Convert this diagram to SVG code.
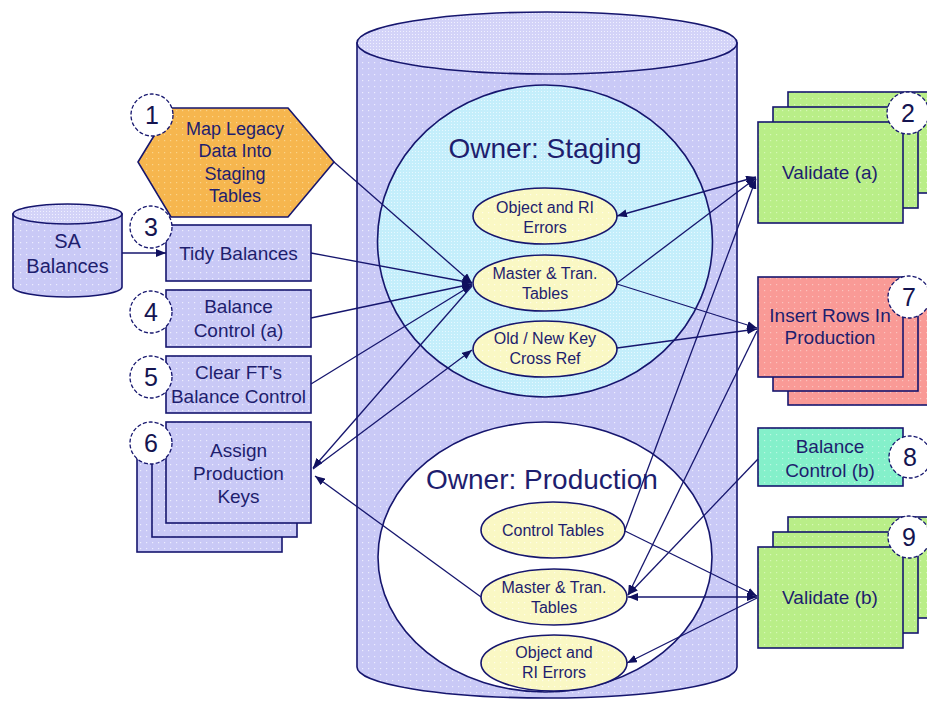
<svg xmlns="http://www.w3.org/2000/svg" width="927" height="702" viewBox="0 0 927 702">
<defs>
<style>
.t{font-family:"Liberation Sans",Arial,sans-serif;fill:#1e1e6e;text-anchor:middle}
.s{stroke:#16166e;stroke-width:1.6}
.c{fill:none;stroke:#16166e;stroke-width:1.3}
.num{fill:#ffffff;stroke:#16166e;stroke-width:1.3;stroke-dasharray:4 2}
.nt{font-family:"Liberation Sans",Arial,sans-serif;fill:#141450;text-anchor:middle;font-size:25px}
.f16{font-size:16px}
.f18{font-size:18px}
.f19{font-size:19px}
.big{font-size:28px}
</style>
<pattern id="pLav" width="6" height="6" patternUnits="userSpaceOnUse"><rect width="6" height="6" fill="#c9c9f6"/><rect x="2" y="2" width="1.2" height="1.2" fill="#ececff"/></pattern>
<pattern id="pLavTop" width="3" height="3" patternUnits="userSpaceOnUse"><rect width="3" height="3" fill="#d3d3f8"/><rect x="1" y="1" width="1" height="1" fill="#f0f0ff"/></pattern>
<pattern id="pCyan" width="3" height="3" patternUnits="userSpaceOnUse"><rect width="3" height="3" fill="#c4eefb"/><rect x="1" y="1" width="1" height="1" fill="#e6f8ff"/></pattern>
<pattern id="pYel" width="6" height="6" patternUnits="userSpaceOnUse"><rect width="6" height="6" fill="#faf8c4"/><rect x="2" y="2" width="1.2" height="1.2" fill="#fffde8"/></pattern>
<pattern id="pOr" width="6" height="6" patternUnits="userSpaceOnUse"><rect width="6" height="6" fill="#f6b64e"/><rect x="2" y="2" width="1.2" height="1.2" fill="#fbd48a"/></pattern>
<pattern id="pGr" width="6" height="6" patternUnits="userSpaceOnUse"><rect width="6" height="6" fill="#b9ee88"/><rect x="2" y="2" width="1.2" height="1.2" fill="#d6f8b6"/></pattern>
<pattern id="pRed" width="6" height="6" patternUnits="userSpaceOnUse"><rect width="6" height="6" fill="#f99a96"/><rect x="2" y="2" width="1.2" height="1.2" fill="#fcc2be"/></pattern>
<pattern id="pTeal" width="6" height="6" patternUnits="userSpaceOnUse"><rect width="6" height="6" fill="#84f0ca"/><rect x="2" y="2" width="1.2" height="1.2" fill="#b8f8e2"/></pattern>
<marker id="ah" viewBox="0 0 10 8" refX="10" refY="4" markerWidth="10" markerHeight="8" markerUnits="userSpaceOnUse" orient="auto-start-reverse"><path d="M0,0 L10,4 L0,8 Z" fill="#10105e"/></marker>
</defs>

<g id="database">
<path class="s" fill="url(#pLav)" d="M357,43 L357,667 A190,31 0 0 0 737,667 L737,43 Z"/>
<ellipse class="s" fill="url(#pLavTop)" cx="547" cy="43" rx="190" ry="31"/>
</g>

<g id="owner-staging">
<ellipse class="s" fill="url(#pCyan)" cx="545" cy="241" rx="167.5" ry="156"/>
<text class="t big" x="545" y="158">Owner: Staging</text>
</g>

<g id="owner-production">
<ellipse class="s" fill="#ffffff" cx="545" cy="557" rx="167" ry="135"/>
<text class="t big" x="542" y="489">Owner: Production</text>
</g>

<g id="stg-object-errors">
<ellipse class="s" fill="url(#pYel)" cx="545" cy="216" rx="72" ry="28"/>
<text class="t f16" x="545" y="213">Object and RI</text>
<text class="t f16" x="545" y="233">Errors</text>
</g>
<g id="stg-master">
<ellipse class="s" fill="url(#pYel)" cx="545" cy="283" rx="72" ry="28"/>
<text class="t f16" x="545" y="279">Master &amp; Tran.</text>
<text class="t f16" x="545" y="299">Tables</text>
</g>
<g id="stg-oldnew">
<ellipse class="s" fill="url(#pYel)" cx="545" cy="349" rx="72" ry="28"/>
<text class="t f16" x="545" y="344">Old / New Key</text>
<text class="t f16" x="545" y="364">Cross Ref</text>
</g>

<g id="prd-control">
<ellipse class="s" fill="url(#pYel)" cx="553" cy="530" rx="72" ry="28"/>
<text class="t f16" x="553" y="536">Control Tables</text>
</g>
<g id="prd-master">
<ellipse class="s" fill="url(#pYel)" cx="554" cy="597" rx="73" ry="28"/>
<text class="t f16" x="554" y="593">Master &amp; Tran.</text>
<text class="t f16" x="554" y="613">Tables</text>
</g>
<g id="prd-object-errors">
<ellipse class="s" fill="url(#pYel)" cx="554" cy="663" rx="73" ry="28"/>
<text class="t f16" x="554" y="658">Object and</text>
<text class="t f16" x="554" y="678">RI Errors</text>
</g>

<g id="sa-balances">
<path class="s" fill="url(#pLav)" d="M13,214 L13,287 A54.5,10 0 0 0 122,287 L122,214 Z"/>
<ellipse class="s" fill="url(#pLavTop)" cx="67.5" cy="214" rx="54.5" ry="10"/>
<text class="t" style="font-size:20px" x="67.5" y="248">SA</text>
<text class="t" style="font-size:20px" x="67.5" y="273">Balances</text>
</g>

<g id="step1-map-legacy">
<polygon class="s" fill="url(#pOr)" points="138,162 171,108 288,108 334,162 288,217 171,217"/>
<text class="t f18" x="235" y="135">Map Legacy</text>
<text class="t f18" x="235" y="157">Data Into</text>
<text class="t f18" x="235" y="180">Staging</text>
<text class="t f18" x="235" y="202">Tables</text>
<circle class="num" cx="152" cy="115" r="21"/>
<text class="nt" x="152" y="124">1</text>
</g>

<g id="step3-tidy">
<rect class="s" fill="url(#pLav)" x="166" y="225" width="145" height="56"/>
<text class="t f19" x="238.5" y="260">Tidy Balances</text>
<circle class="num" cx="151" cy="227" r="21"/>
<text class="nt" x="151" y="236">3</text>
</g>

<g id="step4-balance-a">
<rect class="s" fill="url(#pLav)" x="166" y="290" width="145" height="57"/>
<text class="t f19" x="238.5" y="313">Balance</text>
<text class="t f19" x="238.5" y="337">Control (a)</text>
<circle class="num" cx="151" cy="312" r="21"/>
<text class="nt" x="151" y="321">4</text>
</g>

<g id="step5-clear-ft">
<rect class="s" fill="url(#pLav)" x="166" y="356" width="145" height="57"/>
<text class="t f19" x="238.5" y="379">Clear FT's</text>
<text class="t f19" x="238.5" y="403">Balance Control</text>
<circle class="num" cx="151" cy="377" r="21"/>
<text class="nt" x="151" y="386">5</text>
</g>

<g id="step6-assign-keys">
<rect class="s" fill="url(#pLav)" x="137" y="451" width="145" height="101"/>
<rect class="s" fill="url(#pLav)" x="152" y="436" width="145" height="101"/>
<rect class="s" fill="url(#pLav)" x="166" y="422" width="145" height="101"/>
<text class="t f19" x="238.5" y="457">Assign</text>
<text class="t f19" x="238.5" y="480">Production</text>
<text class="t f19" x="238.5" y="503">Keys</text>
<circle class="num" cx="151" cy="443" r="21"/>
<text class="nt" x="151" y="452">6</text>
</g>

<g id="step2-validate-a">
<rect class="s" fill="url(#pGr)" x="788" y="92" width="145" height="101"/>
<rect class="s" fill="url(#pGr)" x="773" y="107" width="145" height="101"/>
<rect class="s" fill="url(#pGr)" x="758" y="122" width="145" height="101"/>
<text class="t f19" x="830" y="179">Validate (a)</text>
<circle class="num" cx="908" cy="113" r="21"/>
<text class="nt" x="908" y="122">2</text>
</g>

<g id="step7-insert-rows">
<rect class="s" fill="url(#pRed)" x="788" y="305" width="145" height="100"/>
<rect class="s" fill="url(#pRed)" x="773" y="291" width="145" height="100"/>
<rect class="s" fill="url(#pRed)" x="758" y="277" width="145" height="100"/>
<text class="t f19" x="830" y="322">Insert Rows In</text>
<text class="t f19" x="830" y="344">Production</text>
<circle class="num" cx="909" cy="297" r="21"/>
<text class="nt" x="909" y="306">7</text>
</g>

<g id="step8-balance-b">
<rect class="s" fill="url(#pTeal)" x="758" y="428" width="145" height="58"/>
<text class="t f19" x="830" y="453">Balance</text>
<text class="t f19" x="830" y="477">Control (b)</text>
<circle class="num" cx="910" cy="457" r="21"/>
<text class="nt" x="910" y="466">8</text>
</g>

<g id="step9-validate-b">
<rect class="s" fill="url(#pGr)" x="788" y="517" width="145" height="101"/>
<rect class="s" fill="url(#pGr)" x="773" y="532" width="145" height="101"/>
<rect class="s" fill="url(#pGr)" x="758" y="547" width="145" height="101"/>
<text class="t f19" x="830" y="604">Validate (b)</text>
<circle class="num" cx="909" cy="537" r="21"/>
<text class="nt" x="909" y="546">9</text>
</g>

<g id="connectors">
<line class="c" x1="122" y1="253" x2="166" y2="253" marker-end="url(#ah)"/>
<line class="c" x1="334" y1="162" x2="472" y2="283" marker-end="url(#ah)"/>
<line class="c" x1="311" y1="253" x2="472" y2="283" marker-end="url(#ah)"/>
<line class="c" x1="311" y1="318" x2="472" y2="284" marker-end="url(#ah)"/>
<line class="c" x1="311" y1="384" x2="472" y2="285" marker-end="url(#ah)"/>
<line class="c" x1="472" y1="286" x2="313" y2="468" marker-end="url(#ah)"/>
<line class="c" x1="313" y1="469" x2="472" y2="350" marker-end="url(#ah)"/>
<line class="c" x1="481" y1="597" x2="315" y2="476" marker-end="url(#ah)"/>
<line class="c" x1="617" y1="216" x2="756" y2="177" marker-start="url(#ah)" marker-end="url(#ah)"/>
<line class="c" x1="617" y1="283" x2="756" y2="178" marker-end="url(#ah)"/>
<line class="c" x1="625" y1="530" x2="756" y2="179" marker-end="url(#ah)"/>
<line class="c" x1="617" y1="284" x2="757" y2="328" marker-end="url(#ah)"/>
<line class="c" x1="617" y1="348" x2="757" y2="329" marker-end="url(#ah)"/>
<line class="c" x1="757" y1="331" x2="628" y2="595" marker-end="url(#ah)"/>
<line class="c" x1="758" y1="459" x2="628" y2="595" marker-end="url(#ah)"/>
<line class="c" x1="628" y1="597" x2="757" y2="597" marker-start="url(#ah)" marker-end="url(#ah)"/>
<line class="c" x1="625" y1="531" x2="757" y2="596" marker-end="url(#ah)"/>
<line class="c" x1="757" y1="598" x2="627" y2="663" marker-end="url(#ah)"/>
</g>
</svg>
